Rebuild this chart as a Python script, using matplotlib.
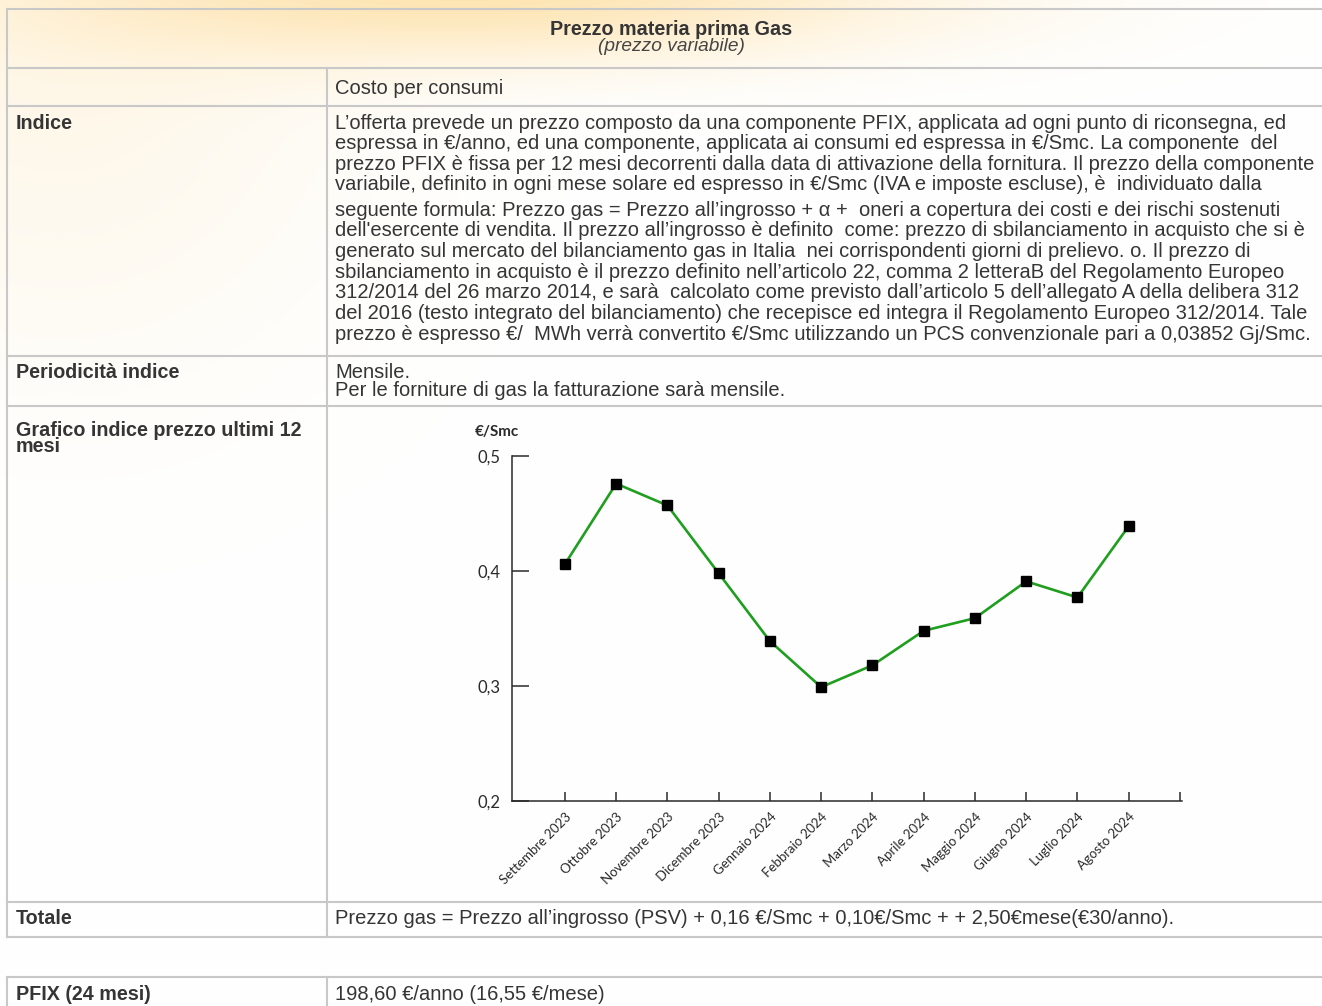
import numpy as np
import matplotlib.pyplot as plt
from matplotlib.lines import Line2D

W, H = 1322, 1006

# data of the chart
mesi = ["Settembre 2023", "Ottobre 2023", "Novembre 2023", "Dicembre 2023",
        "Gennaio 2024", "Febbraio 2024", "Marzo 2024", "Aprile 2024",
        "Maggio 2024", "Giugno 2024", "Luglio 2024", "Agosto 2024"]
prezzi = [0.406, 0.476, 0.457, 0.398, 0.339, 0.299,
          0.318, 0.348, 0.359, 0.391, 0.377, 0.439]
y_ticks = [0.2, 0.3, 0.4, 0.5]
y_labels = ["0,2", "0,3", "0,4", "0,5"]

# table text
titolo = "Prezzo materia prima Gas"
sottotitolo = "(prezzo variabile)"
indice_righe = [
    "L\u2019offerta prevede un prezzo composto da una componente PFIX, applicata ad ogni punto di riconsegna, ed",
    "espressa in \u20ac/anno, ed una componente, applicata ai consumi ed espressa in \u20ac/Smc. La componente  del",
    "prezzo PFIX \u00e8 fissa per 12 mesi decorrenti dalla data di attivazione della fornitura. Il prezzo della componente",
    "variabile, definito in ogni mese solare ed espresso in \u20ac/Smc (IVA e imposte escluse), \u00e8  individuato dalla",
    "seguente formula: Prezzo gas = Prezzo all\u2019ingrosso + \u03b1 +  oneri a copertura dei costi e dei rischi sostenuti",
    "dell'esercente di vendita. Il prezzo all\u2019ingrosso \u00e8 definito  come: prezzo di sbilanciamento in acquisto che si \u00e8",
    "generato sul mercato del bilanciamento gas in Italia  nei corrispondenti giorni di prelievo. o. Il prezzo di",
    "sbilanciamento in acquisto \u00e8 il prezzo definito nell\u2019articolo 22, comma 2 letteraB del Regolamento Europeo",
    "312/2014 del 26 marzo 2014, e sar\u00e0  calcolato come previsto dall\u2019articolo 5 dell\u2019allegato A della delibera 312",
    "del 2016 (testo integrato del bilanciamento) che recepisce ed integra il Regolamento Europeo 312/2014. Tale",
    "prezzo \u00e8 espresso \u20ac/  MWh verr\u00e0 convertito \u20ac/Smc utilizzando un PCS convenzionale pari a 0,03852 Gj/Smc.",
]
totale = "Prezzo gas = Prezzo all\u2019ingrosso (PSV) + 0,16 \u20ac/Smc + 0,10\u20ac/Smc + + 2,50\u20acmese(\u20ac30/anno)."
pfix = "198,60 \u20ac/anno (16,55 \u20ac/mese)"

fig = plt.figure(figsize=(W / 100, H / 100), dpi=100)
bg = fig.add_axes([0, 0, 1, 1])
bg.set_xlim(0, W)
bg.set_ylim(H, 0)
bg.axis("off")

# soft orange glow at the top left of the page
yy, xx = np.mgrid[0:H, 0:W]
glow = (0.50 * np.exp(-((xx - 500) / 430) ** 2 - ((yy + 10) / 70) ** 2)
        + 0.14 * np.exp(-((xx - 60) / 300) ** 2 - ((yy - 60) / 300) ** 2))
arancio = np.array([0.99, 0.80, 0.42])
img = 1 - glow[..., None] * (1 - arancio)
bg.imshow(img, extent=(0, W, H, 0), aspect="auto", zorder=0)

bordo = "#c8c8c8"
lw = 1.5
x0, xc, x1 = 7, 327, 1322
righe = [9, 68, 106, 356, 406, 902, 937]
for y in righe:
    bg.add_line(Line2D([x0, x1], [y, y], color=bordo, lw=lw, zorder=2))
bg.add_line(Line2D([x0, x0], [righe[0], righe[-1]], color=bordo, lw=lw, zorder=2))
bg.add_line(Line2D([xc, xc], [righe[1], righe[-1]], color=bordo, lw=lw, zorder=2))
# second table
bg.add_line(Line2D([x0, x1], [977, 977], color=bordo, lw=lw, zorder=2))
bg.add_line(Line2D([x0, x0], [977, H], color=bordo, lw=lw, zorder=2))
bg.add_line(Line2D([xc, xc], [977, H], color=bordo, lw=lw, zorder=2))

testo = "#353535"
fs = 14.5
fh = 14.2
font = "Liberation Sans"
tl, tr = 16, 335

bg.text(671, 29, titolo, ha="center", va="center", fontsize=fh, fontweight="bold",
        color=testo, family=font)
bg.text(671, 46, sottotitolo, ha="center", va="center", fontsize=fh - 0.4, style="italic",
        color="#454545", family=font)
bg.text(tr, 88, "Costo per consumi", va="center", fontsize=fs, color=testo, family=font)

bg.text(tl, 123, "Indice", va="center", fontsize=fh, fontweight="bold", color=testo, family=font)
y = 123
for i, riga in enumerate(indice_righe):
    if i == 4:
        y += 5
    bg.text(tr, y, riga, va="center", fontsize=fs, color=testo, family=font)
    y += 20.6

bg.text(tl, 372, "Periodicit\u00e0 indice", va="center", fontsize=fh, fontweight="bold",
        color=testo, family=font)
bg.text(tr, 372, "Mensile.", va="center", fontsize=fs, color=testo, family=font)
bg.text(tr, 390, "Per le forniture di gas la fatturazione sar\u00e0 mensile.", va="center",
        fontsize=fs, color=testo, family=font)

bg.text(tl, 430, "Grafico indice prezzo ultimi 12", va="center", fontsize=fh,
        fontweight="bold", color=testo, family=font)
bg.text(tl, 447, "mesi", va="center", fontsize=fh, fontweight="bold", color=testo, family=font)

bg.text(tl, 918, "Totale", va="center", fontsize=fh, fontweight="bold", color=testo, family=font)
bg.text(tr, 918, totale, va="center", fontsize=fs, color=testo, family=font)

bg.text(tl, 994, "PFIX (24 mesi)", va="center", fontsize=fh, fontweight="bold",
        color=testo, family=font)
bg.text(tr, 994, pfix, va="center", fontsize=fs, color=testo, family=font)

# the chart
ax_l, ax_r, ax_b, ax_t = 512, 1182, 801, 456
ax = fig.add_axes([ax_l / W, 1 - ax_b / H, (ax_r - ax_l) / W, (ax_b - ax_t) / H])
ax.patch.set_alpha(0)
x = np.arange(len(mesi))
ax.plot(x, prezzi, color="#1f9e1f", lw=1.9, marker="s", ms=6.5,
        mfc="black", mec="black", zorder=3, clip_on=False)
ax.set_xlim(-1.033, len(mesi) + 0.04)
ax.set_ylim(0.2, 0.5)
for s in ["top", "right"]:
    ax.spines[s].set_visible(False)
for s in ["left", "bottom"]:
    ax.spines[s].set_color("#2a2a2a")
    ax.spines[s].set_linewidth(1.1)

cfont = "Lato"
ax.set_yticks(y_ticks)
ax.set_yticklabels(y_labels, fontsize=12, color="#2a2a2a", family=cfont)
ax.tick_params(axis="y", direction="in", length=12, width=1.1, color="#2a2a2a", pad=8)
ax.set_xticks(np.arange(len(mesi) + 1))
ax.set_xticklabels(mesi + [""], rotation=45, ha="right", rotation_mode="anchor",
                   fontsize=9.5, color="#2a2a2a", family=cfont)
ax.tick_params(axis="x", direction="in", length=6.5, width=1.1, color="#2a2a2a", pad=7)

bg.text(497, 432, "\u20ac/Smc", ha="center", va="center", fontsize=11, fontweight="bold",
        color="#2a2a2a", family=cfont)

fig.savefig("out.png", dpi=100)
